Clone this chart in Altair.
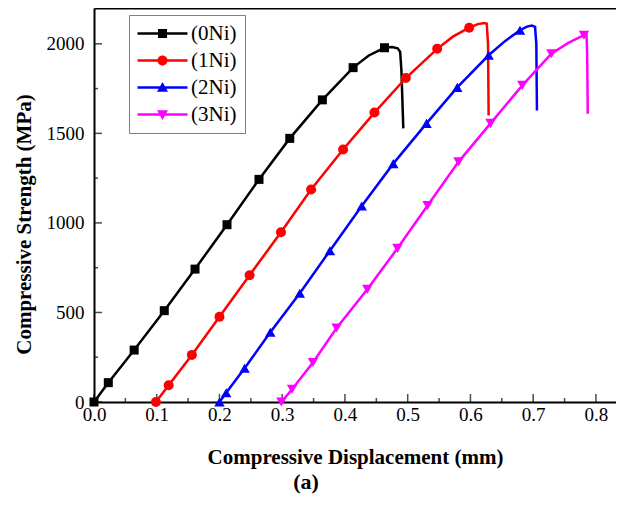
import altair as alt
import pandas as pd

FONT = "Liberation Serif"

series_names = ["(0Ni)", "(1Ni)", "(2Ni)", "(3Ni)"]
series_colors = ["#000000", "#ff0000", "#0000ff", "#ff00ff"]
marker_shapes = ["square", "circle", "triangle-up", "triangle-down"]
marker_sizes = [81, 100, 110, 110]

# legend symbols (unit = 10 px): a line segment with the marker on it
legend_symbols = [
    "M-2.5,-0.13H2.5V0.13H-2.5Z M-0.45,-0.45H0.45V0.45H-0.45Z",
    "M-2.5,-0.13H2.5V0.13H-2.5Z M0.5,0A0.5,0.5,0,1,1,-0.5,0A0.5,0.5,0,1,1,0.5,0Z",
    "M-2.5,-0.13H2.5V0.13H-2.5Z M0,-0.55L0.55,0.42L-0.55,0.42Z",
    "M-2.5,-0.13H2.5V0.13H-2.5Z M0,0.55L-0.55,-0.42L0.55,-0.42Z",
]

x_ticks = [0.0, 0.1, 0.2, 0.3, 0.4, 0.5, 0.6, 0.7, 0.8]
x_minor = [0.05, 0.15, 0.25, 0.35, 0.45, 0.55, 0.65, 0.75]
y_ticks = [0, 500, 1000, 1500, 2000]
y_minor = [250, 750, 1250, 1750]
x_domain = [0, 0.832]
y_domain = [0, 2200]

# ---- curves (displacement mm, strength MPa) ----
ni0_line_x = [0.0, 0.0228, 0.064, 0.112, 0.161, 0.212, 0.263, 0.312, 0.364, 0.413, 0.438, 0.463, 0.475, 0.484, 0.488, 0.490, 0.493]
ni0_line_y = [0, 108, 290, 510, 742, 990, 1243, 1472, 1687, 1867, 1935, 1978, 1982, 1975, 1955, 1850, 1528]
ni1_line_x = [0.0987, 0.119, 0.156, 0.200, 0.248, 0.298, 0.346, 0.397, 0.447, 0.497, 0.547, 0.572, 0.598, 0.612, 0.622, 0.626, 0.628, 0.629]
ni1_line_y = [0, 94, 263, 476, 708, 948, 1187, 1410, 1616, 1809, 1972, 2040, 2090, 2110, 2116, 2112, 2000, 1600]
ni2_line_x = [0.200, 0.2107, 0.240, 0.281, 0.328, 0.376, 0.4267, 0.477, 0.530, 0.579, 0.629, 0.655, 0.679, 0.690, 0.698, 0.703, 0.705, 0.706]
ni2_line_y = [0, 52, 188, 389, 607, 845, 1094, 1331, 1556, 1757, 1936, 2015, 2076, 2096, 2102, 2095, 2000, 1628]
ni3_line_x = [0.2987, 0.3157, 0.349, 0.3867, 0.4357, 0.4837, 0.5317, 0.581, 0.632, 0.6827, 0.729, 0.756, 0.781, 0.785, 0.786, 0.787]
ni3_line_y = [0, 71, 221, 413, 629, 858, 1097, 1341, 1556, 1768, 1945, 2005, 2048, 2055, 1950, 1610]

# ---- markers ----
ni0_mark_x = [0.0, 0.0228, 0.064, 0.112, 0.161, 0.212, 0.263, 0.312, 0.364, 0.413, 0.463]
ni0_mark_y = [0, 108, 290, 510, 742, 990, 1243, 1472, 1687, 1867, 1978]
ni1_mark_x = [0.0987, 0.119, 0.156, 0.200, 0.248, 0.298, 0.346, 0.397, 0.447, 0.497, 0.547, 0.598]
ni1_mark_y = [0, 94, 263, 476, 708, 948, 1187, 1410, 1616, 1809, 1972, 2090]
ni2_mark_x = [0.200, 0.2107, 0.240, 0.281, 0.328, 0.376, 0.4267, 0.477, 0.530, 0.579, 0.629, 0.679]
ni2_mark_y = [0, 52, 188, 389, 607, 845, 1094, 1331, 1556, 1757, 1936, 2076]
ni3_mark_x = [0.2987, 0.3157, 0.349, 0.3867, 0.4357, 0.4837, 0.5317, 0.581, 0.632, 0.6827, 0.729, 0.781]
ni3_mark_y = [0, 71, 221, 413, 629, 858, 1097, 1341, 1556, 1768, 1945, 2048]

line_sets = [(ni0_line_x, ni0_line_y), (ni1_line_x, ni1_line_y), (ni2_line_x, ni2_line_y), (ni3_line_x, ni3_line_y)]
mark_sets = [(ni0_mark_x, ni0_mark_y), (ni1_mark_x, ni1_mark_y), (ni2_mark_x, ni2_mark_y), (ni3_mark_x, ni3_mark_y)]

line_dfs = [pd.DataFrame({"x": xs, "y": ys, "order": list(range(len(xs)))}) for xs, ys in line_sets]
mark_dfs = [pd.DataFrame({"x": xs, "y": ys}) for xs, ys in mark_sets]
legend_df = pd.DataFrame({"series": series_names})

W, H = 522, 394

xs_scale = alt.Scale(domain=x_domain, nice=False, zero=False)
ys_scale = alt.Scale(domain=y_domain, nice=False, zero=False)
color_scale = alt.Scale(domain=series_names, range=series_colors)

main_x_axis = alt.Axis(
    values=x_ticks, format=".1f", ticks=False, grid=False, labelFlush=False,
    domainColor="black", domainWidth=2,
    labelFont=FONT, labelFontSize=19, labelColor="black", labelPadding=3,
    title="Compressive Displacement (mm)", titleFont=FONT, titleFontSize=21,
    titleFontWeight="bold", titleColor="black", titlePadding=22,
)
main_y_axis = alt.Axis(
    values=y_ticks, format="d", ticks=False, grid=False, labelFlush=False,
    domainColor="black", domainWidth=2,
    labelFont=FONT, labelFontSize=19, labelColor="black", labelPadding=10,
    title="Compressive Strength (MPa)", titleFont=FONT, titleFontSize=21,
    titleFontWeight="bold", titleColor="black", titlePadding=12, titleY=216,
)
top_axis = alt.Axis(orient="top", values=x_ticks, labels=False, ticks=False, grid=False,
                    title=None, domainColor="black", domainWidth=2)

line_layers = []
for i, (df, col) in enumerate(zip(line_dfs, series_colors)):
    line_layers.append(
        alt.Chart(df).mark_line(strokeWidth=2.5, color=col).encode(
            x=alt.X("x:Q", scale=xs_scale, axis=main_x_axis if i == 0 else (top_axis if i == 1 else None)),
            y=alt.Y("y:Q", scale=ys_scale, axis=main_y_axis if i == 0 else None),
            order="order:Q",
        )
    )

point_layers = []
for df, col, shp, sz in zip(mark_dfs, series_colors, marker_shapes, marker_sizes):
    point_layers.append(
        alt.Chart(df).mark_point(filled=True, shape=shp, size=sz, color=col, opacity=1).encode(
            x=alt.X("x:Q", scale=xs_scale, axis=None),
            y=alt.Y("y:Q", scale=ys_scale, axis=None),
        )
    )

# inward-pointing axis ticks, placed through the scales
def x_tick_layer(values, length):
    df = pd.DataFrame({"v": values, "base": y_domain[0]})
    return alt.Chart(df).mark_tick(orient="vertical", size=length, thickness=1.5,
                                   color="black", yOffset=-length / 2).encode(
        x=alt.X("v:Q", scale=xs_scale, axis=None),
        y=alt.Y("base:Q", scale=ys_scale, axis=None),
    )

def y_tick_layer(values, length):
    df = pd.DataFrame({"v": values, "base": x_domain[0]})
    return alt.Chart(df).mark_tick(orient="horizontal", size=length, thickness=1.5,
                                   color="black", xOffset=length / 2).encode(
        x=alt.X("base:Q", scale=xs_scale, axis=None),
        y=alt.Y("v:Q", scale=ys_scale, axis=None),
    )

tick_layers = [x_tick_layer(x_ticks, 8), x_tick_layer(x_minor, 4),
               y_tick_layer(y_ticks, 8), y_tick_layer(y_minor, 4)]

legend_cfg = dict(
    orient="none", legendX=35, legendY=7, title=None,
    labelFont=FONT, labelFontSize=21, labelColor="black", labelOffset=18,
    symbolSize=400, symbolOpacity=1, symbolStrokeWidth=0, symbolOffset=15,
    rowPadding=5, padding=8, strokeColor="#808080",
)

legend_layer = alt.Chart(legend_df).mark_point(filled=True, opacity=0).encode(
    color=alt.Color("series:N", scale=color_scale, legend=alt.Legend(**legend_cfg)),
    shape=alt.Shape("series:N", scale=alt.Scale(domain=series_names, range=legend_symbols),
                    legend=alt.Legend(**legend_cfg)),
)

chart = alt.layer(*line_layers, *tick_layers, *point_layers, legend_layer).resolve_axis(
    x="independent", y="independent"
).properties(
    width=W, height=H,
    padding={"left": 86, "top": 0, "right": 0, "bottom": 95},
    autosize=alt.AutoSizeParams(type="none"),
    title=alt.TitleParams(text="(a)", orient="bottom", anchor="middle", font=FONT,
                          fontSize=22, fontWeight="bold", color="black", offset=5, dx=-49),
).configure_view(stroke=None)

chart.save("out.html", embed_options={"renderer": "svg", "actions": False})
